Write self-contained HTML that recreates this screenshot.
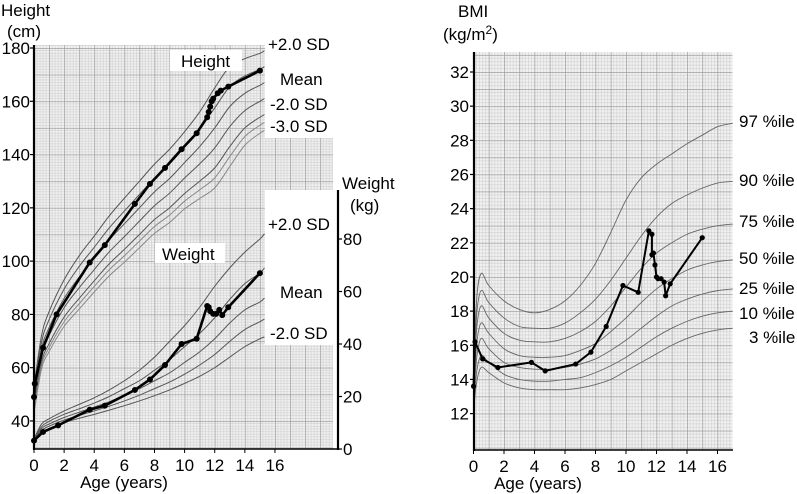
<!DOCTYPE html>
<html><head><meta charset="utf-8"><style>
html,body{margin:0;padding:0;background:#fff}
svg{display:block;font-family:"Liberation Sans",Arial,sans-serif}
</style></head><body>
<svg id="c" width="797" height="494" viewBox="0 0 797 494">
<defs>
<pattern id="gL" patternUnits="userSpaceOnUse" x="34" y="48" width="15.06" height="26.64">
<rect width="15.06" height="26.64" fill="#f1f1f1"/>
<g stroke="#cfcfcf" stroke-width="0.6">
<line x1="3.01" y1="0" x2="3.01" y2="26.64"/><line x1="6.02" y1="0" x2="6.02" y2="26.64"/><line x1="9.04" y1="0" x2="9.04" y2="26.64"/><line x1="12.05" y1="0" x2="12.05" y2="26.64"/>
<line x1="0" y1="2.66" x2="15.06" y2="2.66"/><line x1="0" y1="5.33" x2="15.06" y2="5.33"/><line x1="0" y1="7.99" x2="15.06" y2="7.99"/><line x1="0" y1="10.66" x2="15.06" y2="10.66"/><line x1="0" y1="13.32" x2="15.06" y2="13.32"/><line x1="0" y1="15.98" x2="15.06" y2="15.98"/><line x1="0" y1="18.65" x2="15.06" y2="18.65"/><line x1="0" y1="21.31" x2="15.06" y2="21.31"/><line x1="0" y1="23.98" x2="15.06" y2="23.98"/>
</g>
<g stroke="#9a9a9a" stroke-width="0.8"><line x1="0.3" y1="0" x2="0.3" y2="26.64"/><line x1="0" y1="0.3" x2="15.06" y2="0.3"/></g>
</pattern>
<pattern id="gR" patternUnits="userSpaceOnUse" x="473.5" y="72" width="15.25" height="17.08">
<rect width="15.25" height="17.08" fill="#f1f1f1"/>
<g stroke="#cfcfcf" stroke-width="0.6">
<line x1="3.05" y1="0" x2="3.05" y2="17.08"/><line x1="6.1" y1="0" x2="6.1" y2="17.08"/><line x1="9.15" y1="0" x2="9.15" y2="17.08"/><line x1="12.2" y1="0" x2="12.2" y2="17.08"/>
<line x1="0" y1="3.42" x2="15.25" y2="3.42"/><line x1="0" y1="6.83" x2="15.25" y2="6.83"/><line x1="0" y1="10.25" x2="15.25" y2="10.25"/><line x1="0" y1="13.66" x2="15.25" y2="13.66"/>
</g>
<g stroke="#9a9a9a" stroke-width="0.8"><line x1="0.3" y1="0" x2="0.3" y2="17.08"/><line x1="0" y1="0.3" x2="15.25" y2="0.3"/></g>
</pattern>
</defs>
<g id="left"></g>
<g id="right"></g>
</svg>
<script>
// ---------- Height / Weight chart data ----------
const refAges = [0,0.5,1,2,3,4,5,6,7,8,9,10,11,12,13,14,15,15.3];
const heightMean = [49,67,75,86,94,101,108,114,120,126,131,137,143,150,158,163,166,167];
const heightSd = [2,2.5,3,3.5,4,4.2,4.5,4.8,5,5.2,5.5,5.8,6.5,7.5,7.5,6.5,6,6];
const heightSdLevels = [2,1,0,-1,-2,-2.5,-3];
const weightPlus2 = [3.8,9.5,11.5,14.5,17,19.5,22.5,26,30,35,41,47,54,62,69,75,80,82];
const weightPlus1 = [3.4,8.5,10.5,13.2,15.3,17.5,20,23,26,30,34,39,44,50,57,63,67,69];
const weightMean = [3.0,7.8,9.5,12,14,16,18,20.5,23,26,29,33,37,42,48,53,56,57.5];
const weightMinus1 = [2.7,7,8.7,11,12.8,14.5,16.3,18.3,20.5,23,25.5,28.5,32,36,41,45.5,48.5,49.5];
const weightMinus2 = [2.4,6.3,7.8,10,11.7,13.2,14.8,16.5,18.3,20.3,22.5,25,27.7,31,35,39,42,42.7];
const patHAges = [0,0.05,0.6,1.5,3.7,4.7,6.7,7.7,8.7,9.8,10.8,11.5,11.6,11.7,11.8,11.9,12.2,12.4,12.9,15];
const patHeights = [49,54,67.5,80,99.5,106,121.5,129,135,142,148,154,156,158,160,161,163,164,165.5,171.5];
const patWAges = [0,0.6,1.6,3.7,4.7,6.7,7.7,8.7,9.8,10.8,11.5,11.6,11.7,11.9,12.1,12.3,12.5,12.9,15];
const patWeights = [3.2,6.5,9,15,16.5,22.5,26.5,32,40,42,54.5,54,52.5,51.5,51.5,53,51,54,67];
const heightTicks = [40,60,80,100,120,140,160,180];
const weightTicks = [0,20,40,60,80];
const ageTicks = [0,2,4,6,8,10,12,14,16];
// ---------- BMI chart data ----------
const bmiAges = [0,0.2,0.5,1,2,3,4,5,6,7,8,9,10,11,12,13,14,15,16,17];
const bmiP97 = [13.8,18.6,20.2,19.5,18.6,18.1,17.9,18.1,18.6,19.5,20.8,22.6,24.5,25.8,26.6,27.2,27.8,28.3,28.8,29.0];
const bmiP90 = [13.5,17.7,19.2,18.5,17.6,17.1,17.0,17.0,17.3,17.9,18.7,19.8,21.1,22.4,23.5,24.3,24.8,25.2,25.5,25.6];
const bmiP75 = [13.2,16.9,18.3,17.6,16.7,16.3,16.2,16.2,16.4,16.8,17.4,18.3,19.4,20.5,21.4,22.0,22.5,22.8,23.0,23.1];
const bmiP50 = [12.9,16.0,17.3,16.7,15.8,15.4,15.3,15.3,15.4,15.7,16.1,16.8,17.6,18.5,19.3,19.9,20.4,20.7,20.9,21.0];
const bmiP25 = [12.6,15.2,16.4,15.8,15.0,14.7,14.6,14.6,14.7,14.9,15.2,15.7,16.3,17.0,17.7,18.3,18.7,19.0,19.2,19.3];
const bmiP10 = [12.3,14.4,15.4,15.0,14.3,14.0,13.9,13.9,14.0,14.1,14.4,14.8,15.3,15.9,16.5,17.0,17.4,17.7,17.9,18.0];
const bmiP3 = [12.1,13.8,14.7,14.4,13.8,13.5,13.4,13.4,13.4,13.5,13.7,14.0,14.5,15.0,15.5,16.0,16.4,16.7,16.9,17.0];
const patBAges = [0,0.1,0.6,1.6,3.8,4.7,6.7,7.7,8.7,9.8,10.8,11.5,11.7,11.7,11.8,11.9,12.0,12.1,12.3,12.5,12.6,12.9,15];
const patBmi = [13.6,16.2,15.2,14.7,15.0,14.5,14.9,15.6,17.1,19.5,19.1,22.7,22.5,21.3,21.4,20.7,20.0,19.9,19.9,19.7,18.9,19.6,22.3];
const bmiTicks = [12,14,16,18,20,22,24,26,28,30,32];
const bmiAgeTicks = [0,2,4,6,8,10,12,14,16];

const NS='http://www.w3.org/2000/svg';
const FS=17;
function mk(parent,tag,attrs,text){const e=document.createElementNS(NS,tag);for(const k in attrs)e.setAttribute(k,attrs[k]);if(text!==undefined)e.textContent=text;parent.appendChild(e);return e;}
function smooth(pts){let d='M'+pts[0][0].toFixed(2)+','+pts[0][1].toFixed(2);
 for(let i=0;i<pts.length-1;i++){const p0=pts[Math.max(0,i-1)],p1=pts[i],p2=pts[i+1],p3=pts[Math.min(pts.length-1,i+2)];
  const c1=[p1[0]+(p2[0]-p0[0])/6,p1[1]+(p2[1]-p0[1])/6],c2=[p2[0]-(p3[0]-p1[0])/6,p2[1]-(p3[1]-p1[1])/6];
  d+=' C'+c1[0].toFixed(2)+','+c1[1].toFixed(2)+' '+c2[0].toFixed(2)+','+c2[1].toFixed(2)+' '+p2[0].toFixed(2)+','+p2[1].toFixed(2);}
 return d;}
function poly(pts){return pts.map((p,i)=>(i?'L':'M')+p[0].toFixed(2)+','+p[1].toFixed(2)).join(' ');}

// ---------- left chart ----------
const L=document.getElementById('left');
const xA=a=>34+a*15.06, yH=h=>48+(180-h)*2.664, yW=w=>449-w*2.625;
let r;
r=mk(L,'rect',{x:34,y:45,width:299,height:404,fill:'url(#gL)'});


r=mk(L,'rect',{x:265,y:40,width:75,height:98,fill:'#fff'});


r=mk(L,'rect',{x:265,y:190,width:73,height:155,fill:'#fff'});


heightSdLevels.forEach((k,i)=>{
 const pts=refAges.map((a,j)=>[xA(a),yH(heightMean[j]+k*heightSd[j])]);
 const p=mk(L,'path',{d:smooth(pts),fill:'none',stroke:k<-2?'#888':'#555','stroke-width':1});
 
 
});
[weightPlus2,weightPlus1,weightMean,weightMinus1,weightMinus2].forEach((arr,i)=>{
 const pts=refAges.map((a,j)=>[xA(a),yW(arr[j])]);
 const p=mk(L,'path',{d:smooth(pts),fill:'none',stroke:'#555','stroke-width':1});
 
 
});
r=mk(L,'rect',{x:170,y:50,width:72,height:21,fill:'#fff'});


r=mk(L,'rect',{x:155,y:243,width:70,height:20,fill:'#fff'});


{const pts=patHAges.map((a,i)=>[xA(a),yH(patHeights[i])]);
 const p=mk(L,'path',{d:poly(pts),fill:'none',stroke:'#000','stroke-width':2.6,'stroke-linejoin':'round'});
 
 
 pts.forEach(q=>{const c=mk(L,'circle',{cx:q[0],cy:q[1],r:3,fill:'#000'});
  
  });}
{const pts=patWAges.map((a,i)=>[xA(a),yW(patWeights[i])]);
 const p=mk(L,'path',{d:poly(pts),fill:'none',stroke:'#000','stroke-width':2.6,'stroke-linejoin':'round'});
 
 
 pts.forEach(q=>{const c=mk(L,'circle',{cx:q[0],cy:q[1],r:3,fill:'#000'});
  
  });}
r=mk(L,'line',{x1:34,y1:45,x2:34,y2:450,stroke:'#000','stroke-width':2.2});


r=mk(L,'line',{x1:33,y1:449,x2:338,y2:449,stroke:'#000','stroke-width':1.5});


r=mk(L,'line',{x1:338,y1:190,x2:338,y2:450,stroke:'#000','stroke-width':2.2});


heightTicks.forEach(h=>{mk(L,'line',{x1:30,y1:yH(h),x2:34,y2:yH(h),stroke:'#000','stroke-width':1.2});
 const t=mk(L,'text',{x:30,y:yH(h)+6,'font-size':FS,'text-anchor':'end'},String(h));
 
 });
weightTicks.forEach(w=>{mk(L,'line',{x1:338,y1:yW(w),x2:342,y2:yW(w),stroke:'#000','stroke-width':1.2});
 const t=mk(L,'text',{x:343,y:yW(w)+6,'font-size':FS},String(w));
 
 });
ageTicks.forEach(a=>{mk(L,'line',{x1:xA(a),y1:449,x2:xA(a),y2:453,stroke:'#000','stroke-width':1});
 const t=mk(L,'text',{x:xA(a),y:471,'font-size':FS,'text-anchor':'middle'},String(a));
 
 });
const leftLabels=[
 ['Height',1,16,'start','height-axis-title'],['(cm)',7,37,'start','height-axis-unit'],
 ['Height',181,67,'start','height-curve-label'],['Weight',162,260,'start','weight-curve-label'],
 ['+2.0 SD',268,50,'start','height-plus2-label'],['Mean',280,85,'start','height-mean-label'],
 ['-2.0 SD',270,110,'start','height-minus2-label'],['-3.0 SD',270,132,'start','height-minus3-label'],
 ['Weight',342,189,'start','weight-axis-title'],['(kg)',350,211,'start','weight-axis-unit'],
 ['+2.0 SD',268,230,'start','weight-plus2-label'],['Mean',280,298,'start','weight-mean-label'],
 ['-2.0 SD',270,339,'start','weight-minus2-label'],['Age (years)',124,488,'middle','age-axis-title-left']];
leftLabels.forEach(l=>{const t=mk(L,'text',{x:l[1],y:l[2],'font-size':FS,'text-anchor':l[3]},l[0]);
 
 });

// ---------- right chart ----------
const R=document.getElementById('right');
const xB=a=>473.5+a*15.25, yB=b=>72+(32-b)*17.08;
r=mk(R,'rect',{x:473.5,y:52,width:259,height:398,fill:'url(#gR)'});


[bmiP97,bmiP90,bmiP75,bmiP50,bmiP25,bmiP10,bmiP3].forEach((arr,i)=>{
 const pts=bmiAges.map((a,j)=>[xB(a),yB(arr[j])]);
 const p=mk(R,'path',{d:smooth(pts),fill:'none',stroke:'#666','stroke-width':0.9});
 
 
});
{const pts=patBAges.map((a,i)=>[xB(a),yB(patBmi[i])]);
 const p=mk(R,'path',{d:poly(pts),fill:'none',stroke:'#000','stroke-width':2,'stroke-linejoin':'round'});
 
 
 pts.forEach(q=>{const c=mk(R,'circle',{cx:q[0],cy:q[1],r:2.6,fill:'#000'});
  
  });}
r=mk(R,'line',{x1:474,y1:52,x2:474,y2:451,stroke:'#000','stroke-width':2.2});


r=mk(R,'line',{x1:473,y1:450,x2:733,y2:450,stroke:'#000','stroke-width':1.5});


bmiTicks.forEach(b=>{mk(R,'line',{x1:470,y1:yB(b),x2:474,y2:yB(b),stroke:'#000','stroke-width':1.2});
 const t=mk(R,'text',{x:469,y:yB(b)+6,'font-size':FS,'text-anchor':'end'},String(b));
 
 });
bmiAgeTicks.forEach(a=>{mk(R,'line',{x1:xB(a),y1:450,x2:xB(a),y2:454,stroke:'#000','stroke-width':1});
 const t=mk(R,'text',{x:xB(a),y:472,'font-size':FS,'text-anchor':'middle'},String(a));
 
 });
const rightLabels=[
 ['BMI',458,17,'start','bmi-axis-title'],['Age (years)',538,489,'middle','age-axis-title-right'],
 ['97 %ile',739,127,'start','p97-label'],['90 %ile',739,186,'start','p90-label'],
 ['75 %ile',739,227,'start','p75-label'],['50 %ile',739,264,'start','p50-label'],
 ['25 %ile',739,294,'start','p25-label'],['10 %ile',739,319,'start','p10-label'],
 ['3 %ile',749,343,'start','p3-label']];
rightLabels.forEach(l=>{const t=mk(R,'text',{x:l[1],y:l[2],'font-size':FS,'text-anchor':l[3]},l[0]);
 
 });
{const t=mk(R,'text',{x:443,y:40,'font-size':FS},'(kg/m');
 
 
 mk(t,'tspan',{dy:-6,'font-size':12},'2');
 mk(t,'tspan',{dy:6,'font-size':FS},')');}
</script>
</body></html>
